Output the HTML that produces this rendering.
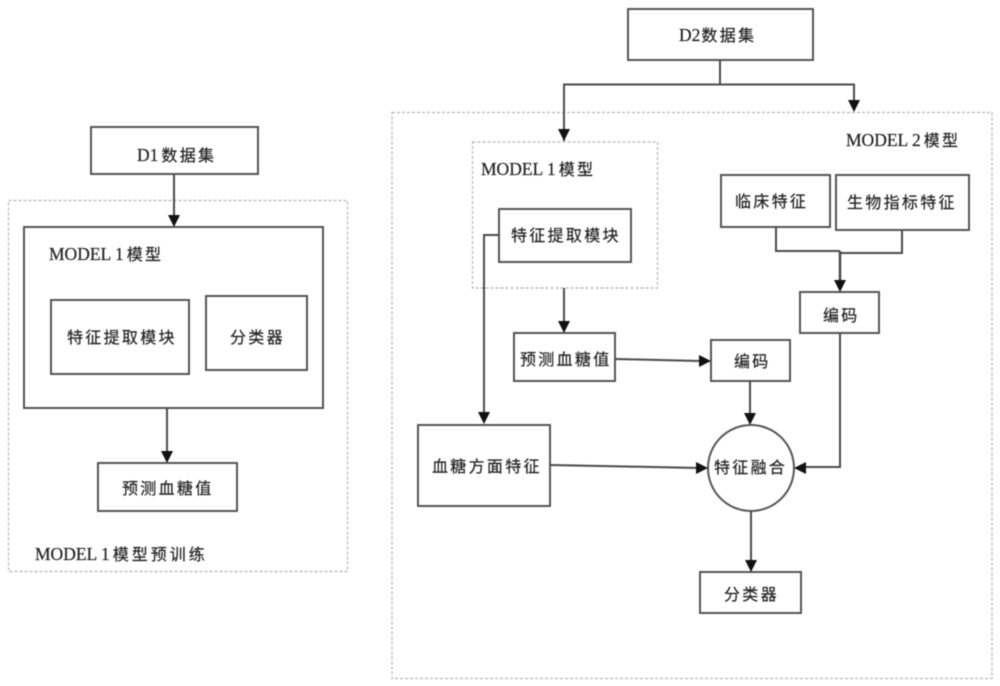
<!DOCTYPE html>
<html><head><meta charset="utf-8">
<style>
html,body{margin:0;padding:0;background:#fff;width:1000px;height:686px;overflow:hidden}
svg{display:block;filter:blur(0.45px)}
text{font-family:"Liberation Serif","Noto Sans CJK SC",sans-serif;font-size:17.5px;fill:#222;stroke:#222;stroke-width:.2}
.c,text .c{font-family:"Noto Sans CJK SC",sans-serif;font-size:16px;letter-spacing:2.3px}
.b{fill:#fff;stroke:#555;stroke-width:2}
.d{fill:none;stroke:#b4b4b4;stroke-width:1.2;stroke-dasharray:3 2}
.l{fill:none;stroke:#4a4a4a;stroke-width:2}
.a{fill:#111;stroke:none}
</style></head><body>
<svg width="1000" height="686" viewBox="0 0 1000 686" xmlns="http://www.w3.org/2000/svg">
<rect class="d" x="8.5" y="200.5" width="339" height="371"/>
<rect class="d" x="392" y="112.5" width="600" height="566"/>
<rect class="d" x="472.5" y="142" width="185" height="146"/>

<rect class="b" x="91" y="127" width="167" height="47"/>
<rect class="b" x="24" y="227" width="299" height="181"/>
<rect class="b" x="51" y="300" width="138" height="74"/>
<rect class="b" x="206" y="296" width="101" height="74"/>
<rect class="b" x="98" y="463" width="139" height="48"/>

<rect class="b" x="628" y="9" width="185" height="51"/>
<rect class="b" x="499" y="209" width="132" height="53"/>
<rect class="b" x="721" y="175" width="109" height="52"/>
<rect class="b" x="836" y="175" width="133" height="55"/>
<rect class="b" x="800" y="292" width="79" height="41"/>
<rect class="b" x="711" y="340" width="79" height="41"/>
<rect class="b" x="514" y="333" width="101" height="48"/>
<rect class="b" x="418" y="425" width="132" height="81"/>
<rect class="b" x="700" y="572" width="101" height="41"/>
<circle class="b" cx="751" cy="468" r="43"/>

<path class="l" d="M174 174V218"/>
<path class="l" d="M167 408V455"/>
<path class="l" d="M720 60V84M564 141V84.500H854V105"/>
<path class="l" d="M776 227V251H840M902 230V253H840"/>
<path class="l" style="stroke-width:2.500" d="M840 251V285"/>
<path class="l" d="M564 288V325"/>
<path class="l" d="M615 359L700 361"/>
<path class="l" d="M499 235H484V416"/>
<path class="l" d="M550 465L700 468"/>
<path class="l" d="M750 381V416"/>
<path class="l" d="M840 333V467H802"/>
<path class="l" d="M751 510V565"/>

<path class="a" d="M168 215H180L174 227Z"/>
<path class="a" d="M161 451H173L167 463Z"/>
<path class="a" d="M558 129H570L564 141Z"/>
<path class="a" d="M848 100H860L854 112Z"/>
<path class="a" d="M834 280H846L840 292Z"/>
<path class="a" d="M558 321H570L564 333Z"/>
<path class="a" d="M699 355V367L711 361Z"/>
<path class="a" d="M478 412H490L484 424Z"/>
<path class="a" d="M696 462V474L708 468Z"/>
<path class="a" d="M744 413H756L750 425Z"/>
<path class="a" d="M806 462V474L794 468Z"/>
<path class="a" d="M745 560H757L751 572Z"/>

<text x="137" y="161">D1<tspan class="c" dx="3">数据集</tspan></text>
<text x="49" y="260">MODEL 1<tspan class="c" dx="3">模型</tspan></text>
<text class="c" x="67" y="343">特征提取模块</text>
<text class="c" x="230" y="343">分类器</text>
<text class="c" x="122" y="494">预测血糖值</text>
<text x="35" y="560">MODEL 1<tspan class="c" dx="3" style="letter-spacing:3px">模型预训练</tspan></text>

<text x="679" y="41">D2<tspan class="c" dx="1">数据集</tspan></text>
<text x="481" y="175">MODEL 1<tspan class="c" dx="3">模型</tspan></text>
<text x="846" y="146">MODEL 2<tspan class="c" dx="3">模型</tspan></text>
<text class="c" x="511" y="241">特征提取模块</text>
<text class="c" x="735" y="207">临床特征</text>
<text class="c" x="847" y="208">生物指标特征</text>
<text class="c" x="823" y="321">编码</text>
<text class="c" x="734" y="367">编码</text>
<text class="c" x="520" y="365">预测血糖值</text>
<text class="c" x="432" y="472">血糖方面特征</text>
<text class="c" x="714" y="473">特征融合</text>
<text class="c" x="724" y="600">分类器</text>
</svg>
</body></html>
